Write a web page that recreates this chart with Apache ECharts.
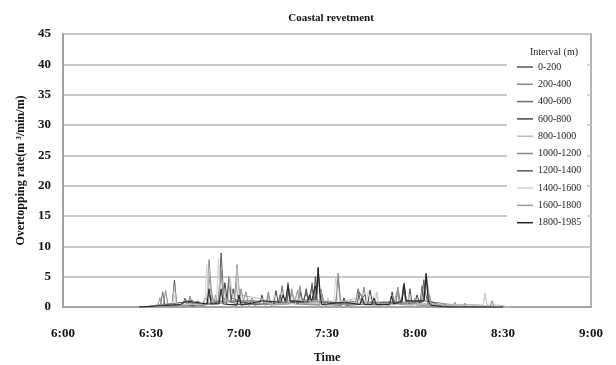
<!DOCTYPE html>
<html><head><meta charset="utf-8">
<script src="https://cdn.jsdelivr.net/npm/echarts@6/dist/echarts.min.js"></script>
<style>html,body{margin:0;padding:0;background:#fff}#c{width:616px;height:365px}</style>
</head><body><div id="c"></div>
<script>
// time in minutes after 6:00, value = overtopping rate (m3/min/m)
const tickLabels = ['6:00','6:30','7:00','7:30','8:00','8:30','9:00'];
const intervals = ['0-200','200-400','400-600','600-800','800-1000','1000-1200','1200-1400','1400-1600','1600-1800','1800-1985'];
const s0_200 = [[27,0],[33,0.2],[40,0.4],[45,0.2],[50,0.5],[53,0.6],[53.9,8.9],[54.8,1.5],[56,0.4],[66,0.4],[72,0.6],[76,0.8],[76.7,4.0],[77.4,1],[86,1.2],[86.4,1.5],[87,6.5],[87.7,1],[96,0.5],[104,0.6],[112,0.8],[117.6,0.8],[118.3,3.0],[119,0.5],[130,0.4],[140,0.2],[150,0]];
const s200_400 = [[27,0],[34.2,0.3],[35,2.7],[35.8,0.4],[42.5,0.3],[43.3,1.8],[44.1,0.3],[49,0.5],[49.8,7.8],[50.5,3],[51.3,0.8],[58.5,1],[59.3,7.0],[60,3],[60.8,0.5],[69.2,0.5],[70,2.5],[70.8,0.5],[80,0.6],[80.8,3.5],[81.6,0.6],[93,0.8],[93.8,5.6],[94.6,1],[101.8,0.6],[102.6,3.3],[103.4,0.6],[113.4,0.5],[114.2,3.3],[115,0.5],[123,1],[123.8,5.6],[124.5,3],[125.3,0.4],[133,0.2],[133.6,0.8],[134.2,0.1],[148,0]];
const s400_600 = [[28,0],[33.3,0.4],[34,2.5],[34.7,0.5],[40.8,0.3],[41.6,1.5],[42.4,0.3],[47.6,0.3],[48.4,1.5],[49.2,1],[50,5],[50.8,1],[55.8,1],[56.6,5],[57.4,1.5],[63.6,0.3],[64.4,1.5],[65.2,0.3],[74,1],[74.7,3.5],[75.5,1.0],[84.2,1],[84.9,4],[85.7,1],[97.1,0.3],[97.9,1],[99.8,0.8],[100.6,3],[101.4,0.8],[115.5,0.8],[116.3,4],[117.1,0.8],[121.7,0.8],[122.4,3.5],[123.2,1],[136.4,0.1],[137,0.6],[137.6,0],[150,0]];
const s600_800 = [[26,0],[37.2,0.3],[38,4.4],[38.8,0.3],[45.2,0.2],[46,1.0],[46.8,0.2],[54.4,1],[55.2,4],[56,1],[57.3,1],[58,3],[58.7,1],[67,0.4],[67.8,2],[68.6,0.4],[71.8,0.6],[72.6,2.7],[73.4,0.6],[82.1,0.8],[82.9,3],[83.7,0.8],[86.3,1],[87,5.5],[87.6,3],[88.3,2],[89,0.4],[95,0.3],[95.8,1.5],[96.6,0.3],[103.9,0.5],[104.7,2.8],[105.5,0.5],[111.4,0.4],[112.2,2.5],[113,0.4],[119.9,0.6],[120.7,2],[121.5,0.6],[123,1],[123.8,5],[124.6,1],[130,0],[150,0]];
const s800_1000 = [[27,0],[36,0.5],[37.3,0.5],[38,3.5],[38.7,0.5],[48,0.5],[49,0.5],[49.8,6.5],[50.6,1.5],[53.2,1],[54,6],[54.8,1],[58.5,1],[59.3,6.5],[60.1,2],[66,1.5],[70,1],[80,0.5],[80.8,2.5],[81.6,0.5],[89.5,0.3],[90.3,1.5],[91.1,0.3],[100,1.5],[106.3,0.3],[107,2.5],[107.7,0.3],[117.3,0.5],[118,2],[118.7,0.5],[125,0.5],[140.5,0.4],[143.2,0.3],[143.9,2.3],[144.6,0.3],[149,0.3],[152,0]];
const s1000_1200 = [[28,0],[42.5,0.2],[43.3,1.2],[44.5,0.3],[45.7,1.0],[46.5,0.2],[53.1,1],[53.9,6],[54.7,1],[60,0.5],[60.7,3],[61.5,1],[62.4,2.5],[63.2,0.5],[76,0.5],[76.7,3],[77.3,1],[78,3],[78.7,0.5],[87.5,0.3],[88.3,2],[89.1,0.3],[93,0.6],[93.8,4.5],[94.6,0.6],[108.6,0.3],[109.4,1],[110.2,0.3],[113.4,0.5],[114.2,2.5],[115.2,0.8],[116.3,3],[117.1,0.5],[126.5,0.1],[127.2,0.8],[128,0.1],[145.6,0],[146.3,1.0],[147,0]];
const s1200_1400 = [[29,0],[41,0.8],[49.3,0.5],[50,2],[50.7,1],[55.8,0.8],[56.6,4],[57.4,0.8],[62,1],[68,1],[73.3,0.5],[74,2],[74.8,0.8],[76.3,0.8],[77,3],[77.7,0.8],[80.3,0.6],[81,2.5],[81.8,0.8],[82.9,2.5],[83.7,0.8],[84.9,3.5],[85.5,1],[86,5],[86.7,1],[98,0.5],[100.3,0.5],[101,2.5],[102,1.5],[103,2],[103.8,0.4],[110,0.5],[115.3,0.6],[116,3.5],[116.8,1],[122.3,1],[123,4.5],[123.7,2],[124.5,0.4],[129.5,0.1],[130.2,0.5],[131,0],[150,0]];
const s1400_1600 = [[30,0],[37.3,0.3],[38,2],[38.7,0.3],[48.3,0.5],[49,7],[49.7,1],[52.3,1],[53,8],[53.7,1],[56.3,1],[57,5],[57.7,2],[71.3,0.5],[72,2],[72.7,0.5],[79.3,0.5],[80,3],[80.7,1],[92.3,1],[93,5],[93.7,1],[103.3,0.5],[104,2.5],[105,1],[107,2.5],[107.7,0.5],[143.2,0.2],[143.9,2],[144.6,0.2],[150,0]];
const s1600_1800 = [[27,0],[32.3,0.2],[33,1.5],[33.7,0.3],[43.3,0.2],[44,1.2],[44.7,0.2],[51.3,0.5],[52,2],[52.7,0.6],[54.3,0.6],[55,3],[55.7,1],[58.3,1],[59,4],[59.7,1],[65,1],[69.3,0.3],[70,2],[70.7,0.3],[77.3,0.5],[78,2.5],[79,1],[80,2.8],[80.7,0.5],[87.3,0.4],[88,3],[88.7,0.4],[101.3,0.5],[102,2],[102.7,0.5],[111.3,0.5],[112,2],[113,1],[114,2.8],[114.7,0.4],[119.3,0.3],[120,1.5],[120.7,0.3],[124.3,0.3],[125,2],[125.7,0.3],[136.4,0],[137,0.5],[137.6,0],[146,0]];
const s1800_1985 = [[26,0],[40,0.4],[42,1],[49.1,0.5],[49.8,3],[50.5,0.5],[53.2,0.5],[53.9,3],[54.6,0.5],[59.3,0.3],[60,2],[60.7,0.3],[68,1],[74.3,0.8],[75,2],[75.8,1],[76.7,3.5],[77.4,1],[83.3,0.8],[84,2],[84.8,1],[86,3.5],[86.5,2],[87,6.5],[87.5,2.5],[88.2,0.4],[96,0.8],[101.3,0.4],[102,1.5],[102.7,0.4],[105.3,0.4],[106,1.5],[106.7,0.4],[111.3,0.4],[112,1.8],[112.7,0.5],[115.6,1],[116.3,3.8],[117,1],[123.1,1],[123.8,5.5],[124.5,1],[125.3,0.3],[130,0],[150,0]];
const seriesData = [s0_200,s200_400,s400_600,s600_800,s800_1000,s1000_1200,s1200_1400,s1400_1600,s1600_1800,s1800_1985];
const colors = ['#555','#888','#6a6a6a','#444','#bbb','#8a8a8a','#5a5a5a','#d0d0d0','#999','#222'];

const font = 'Liberation Serif';
const chart = echarts.init(document.getElementById('c'), null, {renderer:'canvas'});
chart.setOption({
  animation:false,
  textStyle:{fontFamily:font},
  title:[
    {text:'Coastal revetment', left:326, top:8, textAlign:'center',
     textStyle:{fontFamily:font,fontSize:11,fontWeight:'bold',color:'#111'}},
    {text:'Interval (m)', left:549, top:42, textAlign:'center', z:10,
     textStyle:{fontFamily:font,fontSize:10,fontWeight:'normal',color:'#222'}}
  ],
  grid:{left:63, right:25, top:34, bottom:58, show:true, borderColor:'#999', borderWidth:1.5,
        containLabel:false, outerBoundsMode:'none'},
  legend:{
    orient:'vertical', left:507, top:38, backgroundColor:'#fff',
    padding:[24,6,10,10], itemGap:7.3, itemWidth:16, itemHeight:1.5, icon:'rect',
    textStyle:{fontFamily:font,fontSize:10,color:'#222'},
    data:intervals
  },
  xAxis:{
    type:'value', min:0, max:180, interval:30,
    name:'Time', nameLocation:'middle', nameGap:45,
    nameTextStyle:{fontFamily:font,fontSize:12,fontWeight:'bold',color:'#111'},
    axisLine:{show:true,lineStyle:{color:'#999',width:1.5}},
    axisTick:{show:false},
    splitLine:{show:false},
    axisLabel:{fontFamily:font,fontSize:13,fontWeight:'bold',color:'#111',margin:20,
      formatter:v=>tickLabels[Math.round(v/30)]}
  },
  yAxis:{
    type:'value', min:0, max:45, interval:5,
    name:'Overtopping rate(m \u00b3/min/m)', nameLocation:'middle', nameGap:36,
    nameTextStyle:{fontFamily:font,fontSize:12,fontWeight:'bold',color:'#111'},
    axisLine:{show:true,lineStyle:{color:'#999',width:1.5}},
    axisTick:{show:false},
    splitLine:{show:true,lineStyle:{color:'#c8c8c8',width:1.8}},
    axisLabel:{fontFamily:font,fontSize:13,fontWeight:'bold',color:'#111',margin:12}
  },
  series:intervals.map((name,i)=>({
    name, type:'line', data:seriesData[i], symbol:'none', showSymbol:false,
    lineStyle:{color:colors[i],width:1}, itemStyle:{color:colors[i]}
  }))
});
</script></body></html>
